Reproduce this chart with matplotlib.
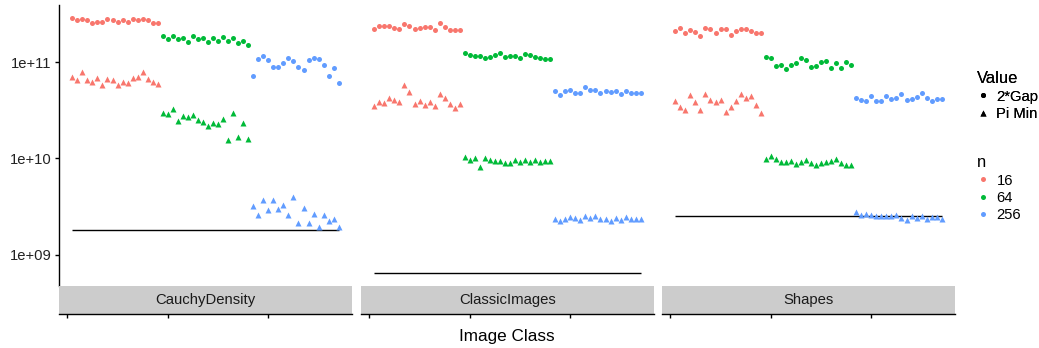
import numpy as np
import matplotlib
matplotlib.use('Agg')
import matplotlib.pyplot as plt
from matplotlib.lines import Line2D

plt.rcParams['font.family'] = ['Liberation Sans', 'DejaVu Sans']

classes = ['CauchyDensity', 'ClassicImages', 'Shapes']
n_levels = ['16', '64', '256']
n_colors = ['#F8766D', '#00BA38', '#619CFF']
value_labels = ['2*Gap', 'Pi Min']
value_markers = ['o', '^']

# values, 18 runs per n
cauchy_gap_16 = np.array([2.88, 2.74, 2.83, 2.70, 2.55, 2.63, 2.63, 2.78, 2.76, 2.59, 2.70, 2.59, 2.83, 2.74, 2.83, 2.70, 2.53, 2.55]) * 1e11
cauchy_gap_64 = np.array([1.87, 1.75, 1.87, 1.72, 1.79, 1.60, 1.86, 1.72, 1.76, 1.60, 1.79, 1.65, 1.84, 1.66, 1.76, 1.57, 1.66, 1.49]) * 1e11
cauchy_gap_256 = np.array([0.724, 1.074, 1.164, 1.041, 0.882, 0.882, 0.970, 1.100, 1.024, 0.882, 0.821, 1.059, 1.110, 1.084, 0.931, 0.724, 0.861, 0.603]) * 1e11
cauchy_pimin_16 = np.array([7.00, 6.43, 7.83, 6.58, 6.17, 6.90, 5.84, 6.67, 6.52, 5.71, 6.21, 6.03, 6.90, 7.07, 7.88, 6.67, 6.13, 5.88]) * 1e10
cauchy_pimin_64 = np.array([2.93, 2.86, 3.22, 2.44, 2.77, 2.67, 2.84, 2.48, 2.40, 2.17, 2.33, 2.26, 2.54, 1.54, 2.93, 1.66, 2.31, 1.59]) * 1e10
cauchy_pimin_256 = np.array([3.21, 2.61, 3.70, 2.89, 3.66, 2.96, 3.28, 2.57, 3.94, 2.11, 3.06, 2.11, 2.63, 1.95, 2.61, 2.26, 2.37, 1.95]) * 1e9

classic_gap_16 = np.array([2.21, 2.34, 2.38, 2.36, 2.25, 2.18, 2.47, 2.39, 2.18, 2.25, 2.30, 2.30, 2.13, 2.53, 2.32, 2.14, 2.14, 2.14]) * 1e11
classic_gap_64 = np.array([1.24, 1.18, 1.16, 1.15, 1.11, 1.13, 1.17, 1.23, 1.12, 1.16, 1.15, 1.10, 1.21, 1.18, 1.13, 1.11, 1.08, 1.08]) * 1e11
classic_gap_256 = np.array([5.06, 4.50, 4.95, 5.14, 4.72, 4.75, 5.48, 5.10, 5.10, 4.72, 4.98, 4.90, 4.98, 4.64, 5.06, 4.75, 4.75, 4.78]) * 1e10
classic_pimin_16 = np.array([3.50, 3.86, 3.79, 4.24, 4.04, 3.88, 5.81, 4.86, 3.66, 3.95, 3.59, 3.85, 3.49, 4.67, 4.20, 3.64, 3.34, 3.64]) * 1e10
classic_pimin_64 = np.array([10.2, 9.58, 10.05, 8.03, 10.05, 9.72, 9.49, 9.49, 9.01, 9.01, 9.72, 9.05, 9.72, 9.20, 9.58, 9.05, 9.31, 9.27]) * 1e9
classic_pimin_256 = np.array([2.32, 2.25, 2.35, 2.45, 2.39, 2.28, 2.50, 2.41, 2.50, 2.35, 2.33, 2.25, 2.41, 2.28, 2.43, 2.33, 2.33, 2.33]) * 1e9

shapes_gap_16 = np.array([2.09, 2.27, 2.02, 2.14, 2.05, 1.87, 2.23, 2.18, 1.98, 2.18, 2.19, 1.93, 2.11, 2.18, 2.22, 2.12, 1.98, 1.98]) * 1e11
shapes_gap_64 = np.array([1.126, 1.092, 0.918, 0.940, 0.841, 0.940, 0.986, 1.110, 1.059, 0.888, 0.909, 1.010, 1.024, 0.861, 0.976, 0.875, 0.993, 0.931]) * 1e11
shapes_gap_256 = np.array([4.25, 3.99, 3.90, 4.39, 3.90, 3.95, 4.45, 4.15, 4.19, 4.60, 3.99, 4.12, 4.35, 4.78, 4.25, 3.90, 4.12, 4.09]) * 1e10
shapes_pimin_16 = np.array([3.93, 3.43, 3.17, 4.50, 3.88, 3.18, 4.63, 4.05, 3.85, 4.02, 3.03, 3.38, 3.94, 4.67, 4.22, 4.41, 3.57, 2.94]) * 1e10
shapes_pimin_64 = np.array([9.88, 10.49, 9.86, 9.16, 9.14, 9.42, 8.63, 9.20, 9.58, 8.99, 8.53, 8.92, 9.09, 9.31, 9.77, 8.88, 8.53, 8.53]) * 1e9
shapes_pimin_256 = np.array([2.75, 2.57, 2.64, 2.56, 2.50, 2.51, 2.54, 2.54, 2.55, 2.40, 2.31, 2.49, 2.38, 2.49, 2.33, 2.44, 2.43, 2.36]) * 1e9

# reference line per class
ref_line = [1.81e9, 6.41e8, 2.51e9]

gap_series = [[cauchy_gap_16, cauchy_gap_64, cauchy_gap_256],
              [classic_gap_16, classic_gap_64, classic_gap_256],
              [shapes_gap_16, shapes_gap_64, shapes_gap_256]]
pimin_series = [[cauchy_pimin_16, cauchy_pimin_64, cauchy_pimin_256],
                [classic_pimin_16, classic_pimin_64, classic_pimin_256],
                [shapes_pimin_16, shapes_pimin_64, shapes_pimin_256]]

x_ticks = [0, 20, 40]

W, H = 1039, 348
fig = plt.figure(figsize=(W / 100, H / 100), dpi=100)

# y range like ggplot: data range on log scale + 5%
all_vals = np.concatenate([np.concatenate(g) for g in gap_series + pimin_series] + [np.array(ref_line)])
lo, hi = np.log10(all_vals.min()), np.log10(all_vals.max())
pad = (hi - lo) * 0.05
ylim = (10 ** (lo - pad), 10 ** (hi + pad))

npts = sum(len(s) for s in gap_series[0])
xlim = (1 - (npts - 1) * 0.05, npts + (npts - 1) * 0.05)

panel_left = [59, 361, 662]
panel_w = 293
top, strip_top, strip_bot = 5, 286, 314
ms_circle, ms_tri = 3.6, 4.6

for i, cls in enumerate(classes):
    x0 = panel_left[i] / W
    ax = fig.add_axes([x0, (H - strip_top) / H, panel_w / W, (strip_top - top) / H])
    sax = fig.add_axes([x0, (H - strip_bot) / H, panel_w / W, (strip_bot - strip_top) / H])

    ax.hlines(ref_line[i], 1, npts, color='black', lw=1.0, zorder=2)
    start = 1
    for j in range(3):
        g = gap_series[i][j]
        p = pimin_series[i][j]
        xs = np.arange(start, start + len(g))
        ax.plot(xs, g, ls='none', marker='o', ms=ms_circle, mec='none', color=n_colors[j], zorder=3)
        ax.plot(xs, p, ls='none', marker='^', ms=ms_tri, mec='none', color=n_colors[j], zorder=3)
        start += len(g)

    ax.set_yscale('log')
    ax.set_ylim(ylim)
    ax.set_xlim(xlim)
    ax.set_xticks([])
    ax.minorticks_off()
    for s in ['top', 'right', 'bottom']:
        ax.spines[s].set_visible(False)
    if i == 0:
        ax.spines['left'].set_linewidth(1.0)
        ax.set_yticks([1e9, 1e10, 1e11])
        ax.set_yticklabels(['1e+09', '1e+10', '1e+11'])
        ax.tick_params(axis='y', length=3.2, width=1.0, labelsize=10.6, colors='black',
                       labelcolor='#222222', pad=2)
    else:
        ax.spines['left'].set_visible(False)
        ax.set_yticks([])

    # strip below panel, with x axis at its bottom
    sax.set_facecolor('#CCCCCC')
    sax.set_xlim(xlim)
    sax.set_ylim(0, 1)
    sax.set_yticks([])
    sax.set_xticks(x_ticks)
    sax.set_xticklabels(['', '', ''])
    sax.tick_params(axis='x', length=3.2, width=1.0, colors='black')
    for s in ['top', 'right', 'left']:
        sax.spines[s].set_visible(False)
    sax.spines['bottom'].set_linewidth(1.0)
    sax.text(0.5, 0.5, cls, transform=sax.transAxes, ha='center', va='center',
             fontsize=10.7, color='#1A1A1A')

fig.text(507 / W, (H - 336) / H, 'Image Class', ha='center', va='center', fontsize=12.3)

shape_handles = [Line2D([], [], ls='none', marker=m, ms=ms, color='black', mec='none')
                 for m, ms in zip(value_markers, [ms_circle, ms_tri])]
color_handles = [Line2D([], [], ls='none', marker='o', ms=ms_circle, color=c, mec='none')
                 for c in n_colors]

leg_kw = dict(loc='upper left', frameon=False, fontsize=10.6, title_fontsize=11.9,
              handlelength=0.8, handletextpad=0.5, labelspacing=0.22, borderpad=0,
              alignment='left')
leg1 = fig.legend(shape_handles, value_labels, title='Value',
                  bbox_to_anchor=(970 / W, 1 - 64 / H), **leg_kw)
leg2 = fig.legend(color_handles, n_levels, title='n',
                  bbox_to_anchor=(970 / W, 1 - 148 / H), **leg_kw)
fig.add_artist(leg1)

fig.savefig('out.png', dpi=100)
